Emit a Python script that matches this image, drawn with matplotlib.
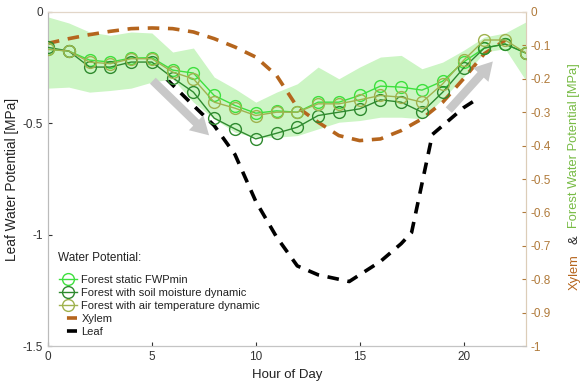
import matplotlib
matplotlib.use('Agg')
import matplotlib.pyplot as plt
from matplotlib.lines import Line2D
import numpy as np

plt.rcParams['font.family'] = ['Liberation Sans', 'DejaVu Sans']

hours = np.arange(24)

# forest water potential (right axis, MPa)
static_fwp = [-0.112, -0.117, -0.144, -0.150, -0.138, -0.137, -0.174, -0.183,
              -0.250, -0.280, -0.303, -0.296, -0.300, -0.270, -0.270, -0.250,
              -0.222, -0.225, -0.234, -0.207, -0.150, -0.108, -0.096, -0.123]
soil_fwp = [-0.106, -0.117, -0.165, -0.165, -0.150, -0.150, -0.197, -0.240,
            -0.318, -0.350, -0.380, -0.363, -0.345, -0.310, -0.300, -0.290,
            -0.263, -0.270, -0.300, -0.240, -0.168, -0.108, -0.096, -0.123]
air_fwp = [-0.112, -0.117, -0.150, -0.155, -0.140, -0.140, -0.180, -0.200,
           -0.270, -0.288, -0.310, -0.300, -0.300, -0.275, -0.275, -0.263,
           -0.250, -0.255, -0.270, -0.215, -0.145, -0.084, -0.084, -0.123]
band_upper = [-0.015, -0.033, -0.060, -0.070, -0.060, -0.063, -0.120, -0.108,
              -0.195, -0.230, -0.270, -0.240, -0.215, -0.165, -0.200, -0.165,
              -0.135, -0.130, -0.170, -0.150, -0.115, -0.075, -0.063, -0.030]
band_lower = [-0.228, -0.225, -0.240, -0.235, -0.228, -0.210, -0.200, -0.270,
              -0.320, -0.360, -0.375, -0.375, -0.370, -0.350, -0.330, -0.325,
              -0.315, -0.315, -0.320, -0.260, -0.195, -0.120, -0.110, -0.205]

# xylem water potential (right axis)
xylem_hours = np.arange(23)
xylem = [-0.094, -0.080, -0.068, -0.058, -0.050, -0.048, -0.050, -0.060,
         -0.080, -0.105, -0.135, -0.190, -0.285, -0.330, -0.370, -0.385,
         -0.380, -0.355, -0.320, -0.270, -0.200, -0.125, -0.085]

# leaf water potential (left axis)
leaf_hours = [5.7, 7, 8, 9, 10, 11, 12, 13, 14, 14.5, 15, 16, 17, 17.5, 18, 18.5, 19, 20, 20.5]
leaf = [-0.30, -0.42, -0.51, -0.64, -0.85, -1.01, -1.14, -1.18, -1.20, -1.21,
        -1.18, -1.12, -1.04, -0.99, -0.77, -0.55, -0.51, -0.43, -0.40]

c_static = '#3ee03e'
c_soil = '#2f8a2f'
c_air = '#9fb24e'
c_xylem = '#b5651d'
c_band = '#ccf5c4'
c_tan = '#b07a3a'
dash = (0, (3.2, 2.4))

fig = plt.figure(figsize=(5.83, 3.85), dpi=100)
ax = fig.add_axes([0.0823, 0.101, 0.8197, 0.868])
ax2 = ax.twinx()

ax.plot(leaf_hours, leaf, color='black', lw=2.6, ls=dash)
ax.set_xlim(0, 23)
ax.set_ylim(-1.5, 0)
ax.set_yticks([0, -0.5, -1, -1.5])
ax.set_yticklabels(['0', '-0.5', '-1', '-1.5'])
ax.set_xticks([0, 5, 10, 15, 20])
ax.set_xlabel('Hour of Day', fontsize=9.5, color='#222222', labelpad=4)
ax.set_ylabel('Leaf Water Potential [MPa]', fontsize=9.8, color='#222222', labelpad=3)
ax.tick_params(direction='in', length=3, labelsize=8.5, colors='#333333')

ax2.fill_between(hours, band_lower, band_upper, color=c_band, lw=0, zorder=1)
ax2.plot(xylem_hours, xylem, color=c_xylem, lw=2.6, ls=dash, zorder=2)
mk = dict(marker='o', ms=8.5, mfc='none', mew=1.0, lw=1.0, zorder=3)
ax2.plot(hours, static_fwp, color=c_static, label='Forest static FWPmin', **mk)
ax2.plot(hours, soil_fwp, color=c_soil, label='Forest with soil moisture dynamic', **mk)
ax2.plot(hours, air_fwp, color=c_air, label='Forest with air temperature dynamic', **mk)
ax2.set_ylim(-1, 0)
ax2.set_yticks(np.round(np.arange(0, -1.01, -0.1), 1))
ax2.set_yticklabels(['0'] + ['%g' % v for v in np.round(np.arange(-0.1, -1.01, -0.1), 1)])
ax2.tick_params(direction='in', length=3, labelsize=8.5, colors=c_tan)

for a in (ax, ax2):
    a.spines['left'].set_color('#bbbbbb')
    a.spines['bottom'].set_color('#c4c4c4')
    a.spines['top'].set_color('#e2d6c8')
    a.spines['right'].set_color('#dccdb8')

# gray trend arrows
arrow = dict(arrowstyle='simple,head_width=1.5,head_length=1.3,tail_width=0.6',
             color='#c8c8c8', lw=0, mutation_scale=10)
ax2.annotate('', xy=(7.85, -0.375), xytext=(4.95, -0.2), arrowprops=arrow, zorder=5)
ax2.annotate('', xy=(21.5, -0.142), xytext=(19.2, -0.30), arrowprops=arrow, zorder=5)

# legend: short solid bars for the dashed lines
bar = (10.6, (2.8, 10))
handles, labels = ax2.get_legend_handles_labels()
handles += [Line2D([], [], color=c_xylem, lw=2.6, ls=bar),
            Line2D([], [], color='black', lw=2.6, ls=bar)]
labels += ['Xylem', 'Leaf']
leg = ax2.legend(handles, labels, loc='lower left', bbox_to_anchor=(0.005, 0.0),
                 frameon=False, fontsize=8, handlelength=1.6, handletextpad=0.4,
                 labelspacing=0.28, borderpad=0.3)
for t in leg.get_texts():
    t.set_color('#222222')
fig.text(0.0995, 0.330, 'Water Potential:', ha='left', va='center', fontsize=8.5, color='#222222')

# multi-coloured right axis label
fig.text(0.985, 0.623, 'Forest Water Potential [MPa]', rotation=90, ha='center', va='center',
         fontsize=9.3, color='#77bb44')
fig.text(0.985, 0.377, '&', rotation=90, ha='center', va='center', fontsize=9.3, color='#222222')
fig.text(0.985, 0.294, 'Xylem', rotation=90, ha='center', va='center', fontsize=9.3, color=c_xylem)

fig.savefig('out.png', dpi=100)
